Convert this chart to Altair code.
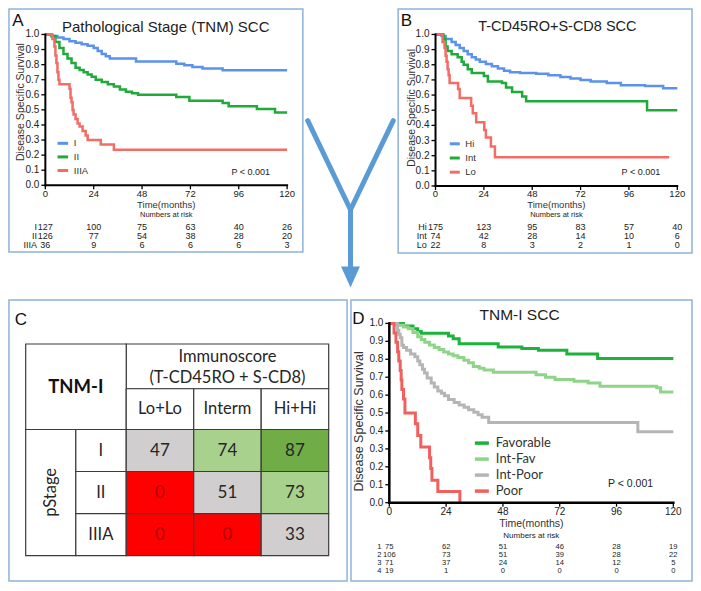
import altair as alt
import pandas as pd

# ---------------- data ----------------
risk_times = [0, 24, 48, 72, 96, 120]          # x tick labels / numbers-at-risk times
Y_TICKS = [0.0, 0.1, 0.2, 0.3, 0.4, 0.5, 0.6, 0.7, 0.8, 0.9, 1.0]
X_DOMAIN = [0, 120]
Y_DOMAIN = [0, 1]

# Panel A - Pathological stage (TNM) SCC
A_names = ["I", "II", "IIIA"]
A_colors = ["#5b93ea", "#1faa3a", "#f26d66"]
A_I_t = [0, 3, 6, 9, 12, 15, 18, 21, 24, 26, 28, 30, 32, 45, 65, 69, 73, 78, 88, 120]
A_I_s = [1.0, 0.99, 0.98, 0.97, 0.955, 0.945, 0.935, 0.925, 0.91, 0.89, 0.87, 0.855, 0.84, 0.82, 0.805, 0.795, 0.785, 0.775, 0.762, 0.762]
A_II_t = [0, 3, 5, 7, 9, 11, 13, 15, 17, 19, 21, 23, 25, 28, 31, 34, 37, 40, 43, 46, 65, 71.5, 88, 91, 105, 114, 120]
A_II_s = [1.0, 0.99, 0.95, 0.91, 0.87, 0.84, 0.81, 0.78, 0.765, 0.75, 0.735, 0.72, 0.70, 0.685, 0.67, 0.655, 0.635, 0.62, 0.61, 0.60, 0.585, 0.56, 0.545, 0.524, 0.505, 0.482, 0.482]
A_IIIA_t = [0, 3.5, 4.5, 5, 5.5, 6, 6.5, 7, 12, 12.5, 13, 13.5, 14, 15, 16, 17, 18.5, 20, 21, 27.5, 34, 120]
A_IIIA_s = [1.0, 0.97, 0.92, 0.86, 0.81, 0.75, 0.70, 0.67, 0.64, 0.58, 0.55, 0.50, 0.47, 0.44, 0.41, 0.39, 0.36, 0.33, 0.30, 0.27, 0.236, 0.236]
A_risk_I = [127, 100, 75, 63, 40, 26]
A_risk_II = [126, 77, 54, 38, 28, 20]
A_risk_IIIA = [36, 9, 6, 6, 6, 3]

# Panel B - T-CD45RO + S-CD8 SCC
B_names = ["Hi", "Int", "Lo"]
B_colors = ["#5b93ea", "#1faa3a", "#f26d66"]
B_Hi_t = [0, 3, 5, 8, 10, 12, 14, 16, 18, 20, 22, 25, 28, 31, 34, 37, 42, 50, 56, 62, 67, 72, 77, 85, 92, 104, 113, 120]
B_Hi_s = [1.0, 0.99, 0.97, 0.95, 0.93, 0.91, 0.89, 0.87, 0.85, 0.835, 0.82, 0.805, 0.79, 0.775, 0.76, 0.75, 0.745, 0.74, 0.73, 0.72, 0.71, 0.70, 0.69, 0.68, 0.665, 0.66, 0.645, 0.645]
B_Int_t = [0, 4, 5, 6, 8, 11, 13, 14, 16, 18, 24, 26, 33, 35, 38, 43, 45, 105, 120]
B_Int_s = [1.0, 0.97, 0.92, 0.89, 0.87, 0.85, 0.82, 0.80, 0.77, 0.745, 0.725, 0.69, 0.68, 0.65, 0.62, 0.59, 0.56, 0.50, 0.50]
B_Lo_t = [0, 3.5, 4.5, 5, 5.5, 6, 6.5, 7, 11.2, 12, 17.7, 18.5, 20.2, 24.2, 25, 27.5, 29.5, 116]
B_Lo_s = [1.0, 0.95, 0.91, 0.86, 0.82, 0.77, 0.73, 0.68, 0.64, 0.58, 0.53, 0.48, 0.42, 0.37, 0.32, 0.26, 0.19, 0.19]
B_risk_Hi = [175, 123, 95, 83, 57, 40]
B_risk_Int = [74, 42, 28, 14, 10, 6]
B_risk_Lo = [22, 8, 3, 2, 1, 0]

# Panel C - TNM-I table
C_cols = ["Lo+Lo", "Interm", "Hi+Hi"]
C_rows = ["I", "II", "IIIA"]
C_val_I = [47, 74, 87]
C_val_II = [0, 51, 73]
C_val_IIIA = [0, 0, 33]
C_cls_I = ["Int-Poor", "Int-Fav", "Favorable"]
C_cls_II = ["Poor", "Int-Poor", "Int-Fav"]
C_cls_IIIA = ["Poor", "Poor", "Int-Poor"]
C_cls_names = ["Favorable", "Int-Fav", "Int-Poor", "Poor"]
C_cls_colors = ["#70ad47", "#a9d18e", "#d0cece", "#ff0000"]

# Panel D - TNM-I SCC
D_names = ["Favorable", "Int-Fav", "Int-Poor", "Poor"]
D_colors = ["#1db33a", "#8fd488", "#b5b5b5", "#f0605d"]
D_Fav_t = [0, 6, 10, 12, 13.5, 25, 27, 29.5, 46, 56, 63, 75, 88, 120]
D_Fav_s = [1.0, 0.985, 0.97, 0.955, 0.945, 0.93, 0.914, 0.887, 0.869, 0.86, 0.851, 0.829, 0.805, 0.805]
D_IF_t = [0, 3, 6, 8, 10, 12, 13.5, 15, 17, 19, 21, 23, 25, 27, 29, 31.5, 33.5, 35.5, 38, 40, 44, 62, 66, 70, 78, 84, 89, 113, 114.6, 120]
D_IF_s = [1.0, 0.99, 0.98, 0.97, 0.95, 0.925, 0.91, 0.895, 0.88, 0.865, 0.855, 0.84, 0.83, 0.82, 0.81, 0.795, 0.78, 0.76, 0.75, 0.74, 0.727, 0.714, 0.70, 0.687, 0.677, 0.668, 0.65, 0.641, 0.617, 0.617]
D_IP_t = [0, 3.5, 4, 4.6, 5.3, 6, 7.3, 9, 10.8, 12, 12.9, 14, 14.9, 16, 17.7, 19, 20.5, 22, 23.3, 25, 27.4, 29.5, 31.6, 33.5, 35.7, 37.5, 39.2, 42, 105, 120]
D_IP_s = [1.0, 0.96, 0.94, 0.92, 0.878, 0.865, 0.851, 0.83, 0.814, 0.79, 0.769, 0.745, 0.723, 0.695, 0.668, 0.645, 0.623, 0.61, 0.596, 0.575, 0.559, 0.545, 0.532, 0.518, 0.504, 0.49, 0.477, 0.447, 0.395, 0.395]
D_P_t = [0, 2, 2.8, 3.5, 4, 4.6, 5, 5.3, 6, 6.6, 11, 12, 13.3, 17, 17.5, 18, 20.5, 29.8]
D_P_s = [1.0, 0.947, 0.895, 0.842, 0.79, 0.737, 0.684, 0.632, 0.579, 0.50, 0.44, 0.375, 0.31, 0.25, 0.19, 0.125, 0.0625, 0.0]
D_risk_1 = [75, 62, 51, 46, 28, 19]
D_risk_2 = [106, 73, 51, 39, 28, 22]
D_risk_3 = [71, 37, 24, 14, 12, 5]
D_risk_4 = [19, 1, 0, 0, 0, 0]

# ---------------- layout helpers ----------------
W, H = 685, 575
SX = W / 697.0
SY = H / 587.0


def px(X):
    return round((X - 2.0) * SX, 2)


def py(Y):
    return round((Y - 2.0) * SY, 2)


SANS = "Liberation Sans"
CAL = "Lato"
BOX = "#8fb2d9"
ARROW = "#5b9bd5"
ONE = pd.DataFrame({"k": [0]})


def text_at(txt, X, Y, size, font=SANS, weight="normal", align="center", color="#222", angle=0):
    return alt.Chart(pd.DataFrame({"txt": [txt]})).mark_text(
        font=font, fontSize=size, fontWeight=weight, align=align, baseline="middle",
        color=color, angle=angle
    ).encode(x=alt.value(px(X)), y=alt.value(py(Y)), text="txt:N")


def curves_df(names, ts, ss):
    return pd.concat(
        [pd.DataFrame({"t": t, "s": s, "g": n}) for n, t, s in zip(names, ts, ss)],
        ignore_index=True,
    )


def axis_layers(xs, ys, g):
    dom = pd.DataFrame({"t0": [X_DOMAIN[0]], "t1": [X_DOMAIN[1]], "s0": [Y_DOMAIN[0]], "s1": [Y_DOMAIN[1]]})
    X0 = alt.X("t0:Q", scale=xs, axis=None)
    Y0 = alt.Y("s0:Q", scale=ys, axis=None)
    xdom = alt.Chart(dom).mark_rule(color="black", strokeWidth=g["dw"], strokeCap="square").encode(
        x=X0, x2="t1:Q", y=Y0)
    ydom = alt.Chart(dom).mark_rule(color="black", strokeWidth=g["dw"], strokeCap="square").encode(
        x=X0, y=Y0, y2="s1:Q")
    ydf = pd.DataFrame({"s": Y_TICKS, "t": X_DOMAIN[0]})
    XY = dict(x=alt.X("t:Q", scale=xs, axis=None), y=alt.Y("s:Q", scale=ys, axis=None))
    yticks = alt.Chart(ydf).mark_point(shape="M-1,0L1,0", size=16, filled=False, color="black",
                                        strokeWidth=1.3, opacity=1, xOffset=-2).encode(**XY)
    ylabels = alt.Chart(ydf).mark_text(align="right", baseline="middle", dx=-6, font=SANS,
                                       fontSize=g["lab_fs"], color="#222").encode(
        text=alt.Text("s:Q", format=".1f"), **XY)
    xdf = pd.DataFrame({"t": risk_times, "s": Y_DOMAIN[0]})
    xticks = alt.Chart(xdf).mark_point(shape="M0,-1L0,1", size=16, filled=False, color="black",
                                        strokeWidth=1.3, opacity=1, yOffset=2).encode(**XY)
    xlabels = alt.Chart(xdf).mark_text(align="center", baseline="top", dy=g["xl_dy"], font=SANS,
                                       fontSize=g["xlab_fs"], color="#222").encode(
        text=alt.Text("t:Q", format="d"), **XY)
    xtitle = text_at("Time(months)", (g["xl"] + g["xr"]) / 2, g["xt_y"], g["xt_fs"], color="#333")
    ytitle = text_at("Disease Specific Survival", g["yt_x"], g["yt_y"], g["yt_fs"], color="#333", angle=270)
    return [xdom, ydom, yticks, ylabels, xticks, xlabels, xtitle, ytitle]


def km_panel(names, colors, ts, ss, risk_labels, risk_counts, g):
    xs = alt.Scale(domain=X_DOMAIN, range=[px(g["xl"]), px(g["xr"])], nice=False, zero=False)
    ys = alt.Scale(domain=Y_DOMAIN, range=[py(g["yb"]), py(g["yt"])], nice=False, zero=False)
    leg = alt.Legend(orient="none", legendX=px(g["lgx"]), legendY=py(g["lgy"]), title=None,
                     symbolType="stroke", symbolSize=g["sym"], symbolStrokeWidth=g["slw"],
                     labelFont=g["lg_font"], labelFontSize=g["lg_fs"], labelColor="#333",
                     labelOffset=g["lg_off"], rowPadding=g["rowpad"], padding=0, offset=0)
    curves = alt.Chart(curves_df(names, ts, ss)).mark_line(
        interpolate="step-after", strokeWidth=g["lw"]
    ).encode(
        x=alt.X("t:Q", scale=xs, axis=None),
        y=alt.Y("s:Q", scale=ys, axis=None),
        color=alt.Color("g:N", scale=alt.Scale(domain=names, range=colors), legend=leg),
    )
    layers = [curves]
    for lab, counts, yy in zip(risk_labels, risk_counts, g["ry"]):
        rdf = pd.DataFrame({"t": risk_times, "n": [str(c) for c in counts]})
        layers.append(
            alt.Chart(rdf).mark_text(font=SANS, fontSize=g["r_fs"], color="#222", baseline="middle").encode(
                x=alt.X("t:Q", scale=xs, axis=None), y=alt.value(py(yy)), text="n:N")
        )
        layers.append(text_at(lab, g["rlx"], yy, g["r_fs"], align="right"))
    layers.append(text_at("Numbers at risk", (g["xl"] + g["xr"]) / 2, g["nar_y"], g["nar_fs"]))
    layers.append(text_at("P < 0.001", g["p_x"], g["p_y"], g["p_fs"]))
    layers += axis_layers(xs, ys, g)
    return alt.layer(*layers)


gA = dict(xl=40, xr=286, yt=29, yb=183, dw=2, lab_fs=10, xlab_fs=9.5, xl_dy=3.5, xt_y=202.8, xt_fs=9.5,
          yt_x=15.5, yt_y=98, yt_fs=10.5,
          lw=2.5, lgx=50.7, lgy=133, sym=112, slw=3, lg_font=SANS, lg_fs=9.5, lg_off=4, rowpad=0.6,
          ry=[225.3, 234.6, 243.9], r_fs=9, rlx=31.5, nar_y=213.2, nar_fs=7.5, p_x=249, p_y=169, p_fs=9)
gB = dict(gA, xl=437, xr=683, yb=183.7, lgx=450, lgy=134, sym=100, rowpad=1.2, rlx=428, p_x=646,
          yt_x=413, yt_y=104)
gD = dict(xl=390, xr=679, yt=324, yb=507, dw=2.5, lab_fs=10, xlab_fs=10, xl_dy=4.5, xt_y=529, xt_fs=10.5,
          yt_x=359, yt_y=424, yt_fs=12.5,
          lw=3, lgx=475, lgy=437, sym=196, slw=3.5, lg_font=CAL, lg_fs=13, lg_off=5, rowpad=0,
          ry=[552.3, 560.3, 568.3, 576.3], r_fs=7.6, rlx=382, nar_y=540.8, nar_fs=8, p_x=635.5, p_y=488,
          p_fs=10.5)

panelA = km_panel(A_names, A_colors, [A_I_t, A_II_t, A_IIIA_t], [A_I_s, A_II_s, A_IIIA_s],
                  A_names, [A_risk_I, A_risk_II, A_risk_IIIA], gA)
panelB = km_panel(B_names, B_colors, [B_Hi_t, B_Int_t, B_Lo_t], [B_Hi_s, B_Int_s, B_Lo_s],
                  B_names, [B_risk_Hi, B_risk_Int, B_risk_Lo], gB)
panelD = km_panel(D_names, D_colors, [D_Fav_t, D_IF_t, D_IP_t, D_P_t], [D_Fav_s, D_IF_s, D_IP_s, D_P_s],
                  ["1", "2", "3", "4"], [D_risk_1, D_risk_2, D_risk_3, D_risk_4], gD)

# ---------------- panel C (table heatmap) ----------------
cdf = pd.DataFrame({
    "row": [r for r in C_rows for _ in C_cols],
    "col": C_cols * len(C_rows),
    "val": C_val_I + C_val_II + C_val_IIIA,
    "cls": C_cls_I + C_cls_II + C_cls_IIIA,
})
cxs = alt.Scale(type="band", domain=C_cols, range=[px(122.3), px(328.3)], paddingInner=0, paddingOuter=0)
cys = alt.Scale(type="band", domain=C_rows, range=[py(432.3), py(561)], paddingInner=0, paddingOuter=0)
LINE = "#3c3c3c"
LW = 1.2
TFS = 16.5

cells = alt.Chart(cdf).mark_rect(stroke=LINE, strokeWidth=LW).encode(
    x=alt.X("col:N", scale=cxs, axis=None),
    y=alt.Y("row:N", scale=cys, axis=None),
    fill=alt.Fill("cls:N", scale=alt.Scale(domain=C_cls_names, range=C_cls_colors), legend=None),
)
cell_text = alt.Chart(cdf).mark_text(font=CAL, fontSize=17, baseline="middle").encode(
    x=alt.X("col:N", scale=cxs, axis=None),
    y=alt.Y("row:N", scale=cys, axis=None),
    text="val:N",
    color=alt.when(alt.datum.cls == "Poor").then(alt.value("#b00000")).otherwise(alt.value("#262626")),
)
rdf_c = pd.DataFrame({"row": C_rows})
stage_cells = alt.Chart(rdf_c).mark_rect(fill="white", stroke=LINE, strokeWidth=LW).encode(
    y=alt.Y("row:N", scale=cys, axis=None), x=alt.value(px(71)), x2=alt.value(px(122.3)))
stage_text = alt.Chart(rdf_c).mark_text(font=CAL, fontSize=TFS, color="#262626", baseline="middle").encode(
    y=alt.Y("row:N", scale=cys, axis=None), x=alt.value(px(96.5)), text="row:N")
hdf_c = pd.DataFrame({"col": C_cols})
head_cells = alt.Chart(hdf_c).mark_rect(fill="white", stroke=LINE, strokeWidth=LW).encode(
    x=alt.X("col:N", scale=cxs, axis=None), y=alt.value(py(390.7)), y2=alt.value(py(432.3)))
head_text = alt.Chart(hdf_c).mark_text(font=CAL, fontSize=TFS, color="#262626", baseline="middle").encode(
    x=alt.X("col:N", scale=cxs, axis=None), y=alt.value(py(411.5)), text="col:N")


def box(x1, y1, x2, y2, stroke, sw, fill="white", fo=0.0):
    return alt.Chart(ONE).mark_rect(fill=fill, fillOpacity=fo, stroke=stroke, strokeWidth=sw).encode(
        x=alt.value(px(x1)), x2=alt.value(px(x2)), y=alt.value(py(y1)), y2=alt.value(py(y2)))


panelC = alt.layer(
    box(122.3, 345, 328.3, 390.7, LINE, LW, fo=1.0),
    box(20, 345, 122.3, 432.3, LINE, LW, fo=1.0),
    box(20, 432.3, 71, 561, LINE, LW, fo=1.0),
    head_cells, head_text, stage_cells, stage_text, cells, cell_text,
    text_at("Immunoscore", 225.3, 358.5, TFS, font=CAL, color="#262626"),
    text_at("(T-CD45RO + S-CD8)", 225.3, 380, TFS, font=CAL, color="#262626"),
    text_at("TNM-I", 71, 388.5, 18.5, font=CAL, weight="bold", color="#111"),
    text_at("pStage", 46, 496.5, TFS, font=CAL, color="#262626", angle=270),
)

# ---------------- decorations ----------------
boxes = alt.layer(
    box(3, 3, 302, 251, BOX, 1.5),
    box(399, 3, 698, 252, BOX, 1.5),
    box(3, 300, 347, 587, BOX, 1.5),
    box(351, 300, 698, 587, BOX, 1.5),
)


def seg(x1, y1, x2, y2):
    return alt.Chart(ONE).mark_rule(color=ARROW, strokeWidth=5, strokeCap="round").encode(
        x=alt.value(px(x1)), y=alt.value(py(y1)), x2=alt.value(px(x2)), y2=alt.value(py(y2)))


arrow = alt.layer(
    seg(307, 117, 350.5, 208),
    seg(394, 117, 350.5, 208),
    seg(350.5, 208, 350.5, 268),
    alt.Chart(ONE).mark_point(shape="M-0.9,-1L0.9,-1L0,1Z", filled=True, size=441, color=ARROW,
                              opacity=1, strokeWidth=0).encode(
        x=alt.value(px(350.5)), y=alt.value(py(276.5))),
)

labels = alt.layer(
    text_at("A", 12, 15, 17, color="#111"),
    text_at("Pathological Stage (TNM) SCC", 162.5, 21, 15, color="#222"),
    text_at("B", 407.5, 15, 17, color="#111"),
    text_at("T-CD45RO+S-CD8 SCC", 561, 21, 14.5, color="#222"),
    text_at("C", 15, 320, 17, color="#111"),
    text_at("D", 358.5, 319, 17, color="#111"),
    text_at("TNM-I SCC", 522.5, 315, 15.5, color="#222"),
)

chart = alt.layer(boxes, panelA, panelB, panelC, panelD, arrow, labels).properties(
    width=W, height=H, padding=0, autosize=alt.AutoSizeParams(type="none"), background="white"
).resolve_scale(
    x="independent", y="independent", color="independent", fill="independent"
).resolve_legend(
    color="independent"
).configure_view(stroke=None)

chart.save("out.html", embed_options={"renderer": "svg", "actions": False})
